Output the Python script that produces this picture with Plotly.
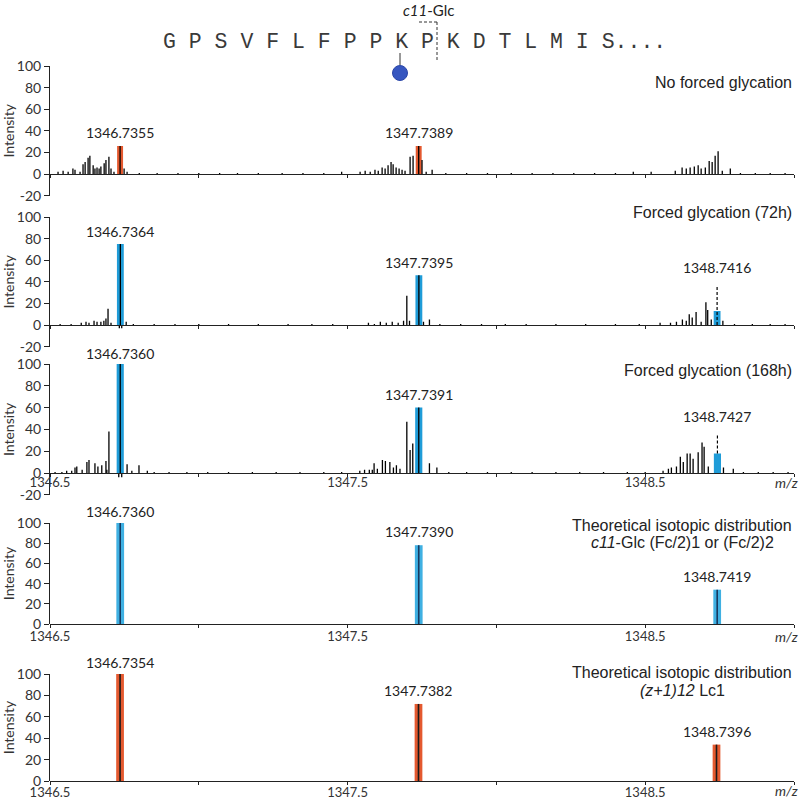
import plotly.graph_objects as go

# ---------------- data ----------------
MZ_RANGE = [1346.5, 1349.0]
XTICK_VALS = [1346.5, 1347.0, 1347.5, 1348.0, 1348.5, 1349.0]
XTICK_TEXT = ["1346.5", "", "1347.5", "", "1348.5", ""]
YTICKS_EXP = [-20, 0, 20, 40, 60, 80, 100]
YTICKS_EXP_TEXT = ["-20", "0", "20", "40", "60", "80", "100"]
YTICKS_TH = [0, 20, 40, 60, 80, 100]
YTICKS_TH_TEXT = ["0", "20", "40", "60", "80", "100"]

SEQUENCE = "G P S V F L F P P K P K D T L M I S...."

# Panel 1 : No forced glycation (spectrum sticks)
p1_mz = [1346.527, 1346.544, 1346.561, 1346.577, 1346.584, 1346.601, 1346.611, 1346.618, 1346.628, 1346.634,
         1346.645, 1346.651, 1346.658, 1346.665, 1346.671, 1346.682, 1346.688, 1346.698, 1346.705, 1346.715,
         1346.7355, 1346.749, 1346.759,
         1346.80, 1346.86, 1346.93, 1347.00, 1347.07, 1347.13, 1347.20, 1347.28, 1347.35, 1347.42, 1347.48,
         1347.542, 1347.559, 1347.576, 1347.592, 1347.603, 1347.616, 1347.626, 1347.636, 1347.646, 1347.653,
         1347.663, 1347.673, 1347.683, 1347.693, 1347.710, 1347.720, 1347.7389, 1347.750, 1347.764, 1347.784,
         1347.83, 1347.90, 1347.97, 1348.05, 1348.12, 1348.19, 1348.26, 1348.33, 1348.40, 1348.46, 1348.52,
         1348.601, 1348.624, 1348.638, 1348.651, 1348.665, 1348.678, 1348.688, 1348.702, 1348.715, 1348.725,
         1348.735, 1348.745, 1348.759, 1348.786,
         1348.82, 1348.87, 1348.92, 1348.97]
p1_int = [2, 3, 2, 5, 4, 2, 9, 11, 15, 17,
          8, 5, 6, 5, 7, 10, 13, 16, 5, 2,
          26, 5, 2,
          1, 1, 1, 1, 1, 1, 1, 1, 1, 1, 2,
          2, 3, 2, 4, 3, 6, 5, 8, 11, 9,
          6, 5, 4, 3, 16, 17, 26, 13, 2, 4,
          1, 1, 1, 1, 1, 1, 1, 1, 1, 2, 2,
          3, 6, 5, 6, 7, 8, 5, 6, 12, 11,
          17, 21, 3, 5,
          1, 1, 1, 1]
p1_peak_mz = [1346.7355, 1347.7389]
p1_peak_int = [26, 26]

# Panel 2 : Forced glycation (72h)
p2_mz = [1346.534, 1346.571, 1346.605, 1346.621, 1346.631, 1346.648, 1346.658, 1346.671, 1346.681, 1346.688,
         1346.695, 1346.705, 1346.733, 1346.7364, 1346.741, 1346.756,
         1346.78, 1346.85, 1346.92, 1347.00, 1347.10, 1347.20, 1347.30, 1347.38, 1347.45,
         1347.57, 1347.59, 1347.61, 1347.63, 1347.65, 1347.67, 1347.688, 1347.699, 1347.708, 1347.7395,
         1347.755, 1347.775,
         1347.81, 1347.88, 1347.95, 1348.03, 1348.10, 1348.20, 1348.30, 1348.40, 1348.48, 1348.55,
         1348.585, 1348.605, 1348.625, 1348.638, 1348.648, 1348.658, 1348.671, 1348.688, 1348.704, 1348.710,
         1348.722, 1348.761,
         1348.80, 1348.86, 1348.92, 1348.97]
p2_int = [1, 1, 2, 3, 2, 4, 3, 3, 4, 6,
          15, 2, -3, 75, -3, 3,
          1, 1, 1, 1, 1, 1, 1, 1, 1,
          2, 1, 3, 2, 3, 2, 4, 27, 4, 46,
          3, 5,
          1, 1, 1, 1, 1, 1, 1, 1, 1, 2,
          2, 3, 5, 4, 10, 7, 12, 3, 21, 14,
          5, 4,
          1, 1, 1, 1]
p2_peak_mz = [1346.7364, 1347.7395, 1348.7416]
p2_peak_int = [75, 46, 13]
p2_dash_mz = 1348.7416
p2_dash_int = [0, 36]

# Panel 3 : Forced glycation (168h)
p3_mz = [1346.517, 1346.540, 1346.556, 1346.573, 1346.584, 1346.590, 1346.608, 1346.624, 1346.631, 1346.651,
         1346.661, 1346.674, 1346.688, 1346.691, 1346.698, 1346.731, 1346.7360, 1346.741, 1346.759, 1346.775,
         1346.799, 1346.827,
         1346.85, 1346.90, 1346.96, 1347.03, 1347.10, 1347.18, 1347.26, 1347.34, 1347.42, 1347.48,
         1347.541, 1347.557, 1347.573, 1347.583, 1347.589, 1347.600, 1347.617, 1347.627, 1347.642, 1347.654,
         1347.664, 1347.676, 1347.699, 1347.710, 1347.719, 1347.7391, 1347.775, 1347.800,
         1347.84, 1347.90, 1347.97, 1348.05, 1348.12, 1348.20, 1348.28, 1348.36, 1348.44, 1348.50,
         1348.560, 1348.578, 1348.588, 1348.605, 1348.618, 1348.628, 1348.641, 1348.651, 1348.661, 1348.678,
         1348.691, 1348.698, 1348.712, 1348.763, 1348.796,
         1348.83, 1348.88, 1348.93, 1348.98]
p3_int = [1, 1, 2, 2, 5, 6, 3, 10, 12, 9,
          6, 7, 11, 3, 38, -4, 100, -4, 8, 2,
          7, 2,
          1, 1, 1, 1, 1, 1, 1, 1, 1, 1,
          2, 3, 3, 3, 9, 4, 12, 11, 10, 5,
          7, 4, 47, 21, 27, 60, 9, 5,
          1, 1, 1, 1, 1, 1, 1, 1, 1, 1,
          2, 4, 5, 6, 15, 10, 18, 18, 13, 19,
          28, 24, 6, 5, 4,
          1, 1, 1, 1]
p3_peak_mz = [1346.7360, 1347.7391, 1348.7427]
p3_peak_int = [100, 60, 18]
p3_dash_mz = 1348.7427
p3_dash_int = [18, 35]

# Panel 4 : theoretical c11-Glc
p4_mz = [1346.7360, 1347.7390, 1348.7419]
p4_int = [100, 78, 34]

# Panel 5 : theoretical (z+1)12 Lc1
p5_mz = [1346.7354, 1347.7382, 1348.7396]
p5_int = [100, 72, 34]

TITLES = ["No forced glycation", "Forced glycation (72h)", "Forced glycation (168h)"]
TH_TITLE = "Theoretical isotopic distribution"
TH_SUB = ["<i>c11</i>-Glc (Fc/2)1 or (Fc/2)2", "<i>(z+1)12</i> Lc1"]

# ---------------- layout helpers ----------------
W, H = 800, 799
ML, MR = 50, 6
PW = W - ML - MR

def ppx(p):
    return (p - ML) / PW

def ppy(p):
    return 1 - p / H

AX = "#222222"
TXT = "#333333"
ORANGE = "#e4592f"
BLUE = "#1f9cd8"
LBLUE = "#3fb0e2"
NAVY = "#17385f"
TICKFONT = dict(family="Lato, Open Sans, sans-serif", size=14, color=TXT)
XTICKFONT = dict(family="Lato, Open Sans, sans-serif", size=13, color=TXT)
LABFONT = dict(family="Lato, Open Sans, sans-serif", size=14, color="#222")
TITLEFONT = dict(family="Liberation Sans, Arial, sans-serif", size=16, color="#222")


def sticks(mz, inten):
    xs, ys = [], []
    for m, v in zip(mz, inten):
        xs += [m, m, None]
        ys += [0, v, None]
    return xs, ys


fig = go.Figure()

# panel geometry: (px of 100, px of 0, px of bottom, x-label standoff)
geo = [
    (66, 174, 195.6, -6),
    (217, 325, 346.6, -6),
    (364, 473, 494.8, -6),
    (523, 624, 624, -3),
    (674, 781, 781, -4),
]

spectra = [(p1_mz, p1_int), (p2_mz, p2_int), (p3_mz, p3_int)]
peaks = [(p1_peak_mz, p1_peak_int, ORANGE, 0.020),
         (p2_peak_mz, p2_peak_int, BLUE, 0.023),
         (p3_peak_mz, p3_peak_int, BLUE, 0.024)]

def axnames(i):
    s = "" if i == 1 else str(i)
    return "x" + s, "y" + s, "xaxis" + s, "yaxis" + s

for i in range(1, 4):
    xa, ya, _, _ = axnames(i)
    pmz, pint, col, bw = peaks[i - 1]
    fig.add_trace(go.Bar(x=pmz, y=pint, width=bw, marker=dict(color=col, line=dict(width=0)),
                         xaxis=xa, yaxis=ya, showlegend=False, hoverinfo="skip"))
    smz, sint = spectra[i - 1]
    xs, ys = sticks(smz, sint)
    fig.add_trace(go.Scatter(x=xs, y=ys, mode="lines", line=dict(color="black", width=1.3),
                             xaxis=xa, yaxis=ya, showlegend=False, hoverinfo="skip"))

# dashed peak lines (panels 2 and 3)
for i, (dmz, dint) in [(2, (p2_dash_mz, p2_dash_int)), (3, (p3_dash_mz, p3_dash_int))]:
    xa, ya, _, _ = axnames(i)
    fig.add_trace(go.Scatter(x=[dmz, dmz], y=dint, mode="lines",
                             line=dict(color="black", width=1.2, dash="3px,2px"),
                             xaxis=xa, yaxis=ya, showlegend=False, hoverinfo="skip"))

# theoretical panels
for i, (tmz, tint, col, ccol) in [(4, (p4_mz, p4_int, LBLUE, NAVY)), (5, (p5_mz, p5_int, ORANGE, "#1a1a1a"))]:
    xa, ya, _, _ = axnames(i)
    fig.add_trace(go.Bar(x=tmz, y=tint, width=0.026, marker=dict(color=col, line=dict(width=0)),
                         xaxis=xa, yaxis=ya, showlegend=False, hoverinfo="skip"))
    xs, ys = sticks(tmz, tint)
    fig.add_trace(go.Scatter(x=xs, y=ys, mode="lines", line=dict(color=ccol, width=1.6),
                             xaxis=xa, yaxis=ya, showlegend=False, hoverinfo="skip"))

layout = dict(
    width=W, height=H,
    margin=dict(l=ML, r=MR, t=0, b=0, autoexpand=False),
    paper_bgcolor="white", plot_bgcolor="rgba(0,0,0,0)",
    barmode="overlay", showlegend=False,
    font=dict(family="Lato, sans-serif", color=TXT),
)

for i in range(1, 6):
    xa, ya, xk, yk = axnames(i)
    top, zero, bot, stand = geo[i - 1]
    exp = i <= 3
    layout[yk] = dict(
        domain=[ppy(bot), ppy(top)],
        range=[-20, 100] if exp else [0, 100],
        anchor=xa, showline=True, linecolor=AX, linewidth=1,
        ticks="outside", ticklen=5, tickcolor=AX, tickwidth=1,
        tickvals=YTICKS_EXP if exp else YTICKS_TH,
        ticktext=YTICKS_EXP_TEXT if exp else YTICKS_TH_TEXT,
        showgrid=False, zeroline=False, tickfont=TICKFONT, automargin=False,
        title=dict(text="Intensity", font=dict(family="Lato, sans-serif", size=14, color=TXT), standoff=3),
        fixedrange=True,
    )
    show_lab = i >= 3
    layout[xk] = dict(
        domain=[0, 1], range=MZ_RANGE,
        anchor="free", position=ppy(zero),
        showline=True, linecolor=AX, linewidth=1,
        ticks="outside", ticklen=3, tickcolor=AX, tickwidth=1,
        tickvals=XTICK_VALS, ticktext=XTICK_TEXT if show_lab else [""] * len(XTICK_VALS),
        ticklabelstandoff=stand,
        showgrid=False, zeroline=False, tickfont=XTICKFONT, fixedrange=True, automargin=False,
    )

annotations = []
shapes = []

# peak labels
label_sets = [
    (1, p1_peak_mz, p1_peak_int, [3, 3]),
    (2, p2_peak_mz, p2_peak_int, [2, 2, 2]),
    (3, p3_peak_mz, p3_peak_int, [0, 3, 2]),
    (4, p4_mz, p4_int, [1, 3, 3]),
    (5, p5_mz, p5_int, [1, 3, 3]),
]
dash_tops = {(2, 2): p2_dash_int[1], (3, 2): p3_dash_int[1]}
for i, mzs, ints, shifts in label_sets:
    xa, ya, _, _ = axnames(i)
    for k, (m, v) in enumerate(zip(mzs, ints)):
        yv = v
        sh = shifts[k]
        if (i, k) in dash_tops:
            yv = max(v, dash_tops[(i, k)])
            sh = 8
        annotations.append(dict(x=m, y=yv, xref=xa, yref=ya, text=f"{m:.4f}", showarrow=False,
                                xanchor="center", yanchor="bottom", yshift=sh, font=LABFONT))

# panel titles
title_y = [82, 212, 370]
for t, yp in zip(TITLES, title_y):
    annotations.append(dict(x=ppx(794), y=ppy(yp), xref="paper", yref="paper", text=t, showarrow=False,
                            xanchor="right", yanchor="middle", font=TITLEFONT))
for (y1, y2), sub in zip([(525, 542), (672, 690)], TH_SUB):
    annotations.append(dict(x=ppx(682), y=ppy(y1), xref="paper", yref="paper", text=TH_TITLE, showarrow=False,
                            xanchor="center", yanchor="middle", font=TITLEFONT))
    annotations.append(dict(x=ppx(682), y=ppy(y2), xref="paper", yref="paper", text=sub, showarrow=False,
                            xanchor="center", yanchor="middle", font=TITLEFONT))

# m/z labels
for yp in [482, 636, 790]:
    annotations.append(dict(x=ppx(786), y=ppy(yp), xref="paper", yref="paper", text="<i>m/z</i>",
                            showarrow=False, xanchor="center", yanchor="middle",
                            font=dict(family="Lato, sans-serif", size=14, color=TXT)))

# sequence
annotations.append(dict(x=ppx(161), y=ppy(42), xref="paper", yref="paper", text=SEQUENCE, showarrow=False,
                        xanchor="left", yanchor="middle",
                        font=dict(family="Liberation Mono, DejaVu Sans Mono, monospace", size=21.5, color="#3a3a3a")))
annotations.append(dict(x=ppx(428), y=ppy(10), xref="paper", yref="paper", text="<i>c11</i>-Glc", showarrow=False,
                        xanchor="center", yanchor="middle",
                        font=dict(family="Lato, sans-serif", size=15, color="#222")))

dash_line = dict(color="#333", width=1, dash="3px,2px")
shapes.append(dict(type="line", xref="paper", yref="paper", x0=ppx(437), x1=ppx(437), y0=ppy(22), y1=ppy(60),
                   line=dash_line))
shapes.append(dict(type="line", xref="paper", yref="paper", x0=ppx(419), x1=ppx(437), y0=ppy(22), y1=ppy(22),
                   line=dash_line))
shapes.append(dict(type="line", xref="paper", yref="paper", x0=ppx(400), x1=ppx(400), y0=ppy(53), y1=ppy(65),
                   line=dict(color="#333", width=1)))
shapes.append(dict(type="circle", xref="paper", yref="paper", x0=ppx(392.5), x1=ppx(407.5), y0=ppy(80.5),
                   y1=ppy(65.5), fillcolor="#3656c0", line=dict(color="#2a46a8", width=1)))

layout["annotations"] = annotations
layout["shapes"] = shapes
fig.update_layout(**layout)

fig.write_html(
    "out.html",
    config={"responsive": False, "displayModeBar": False},
    post_script="document.body.style.margin='0px';document.body.style.padding='0px';"
                "document.body.style.overflow='hidden';",
)
